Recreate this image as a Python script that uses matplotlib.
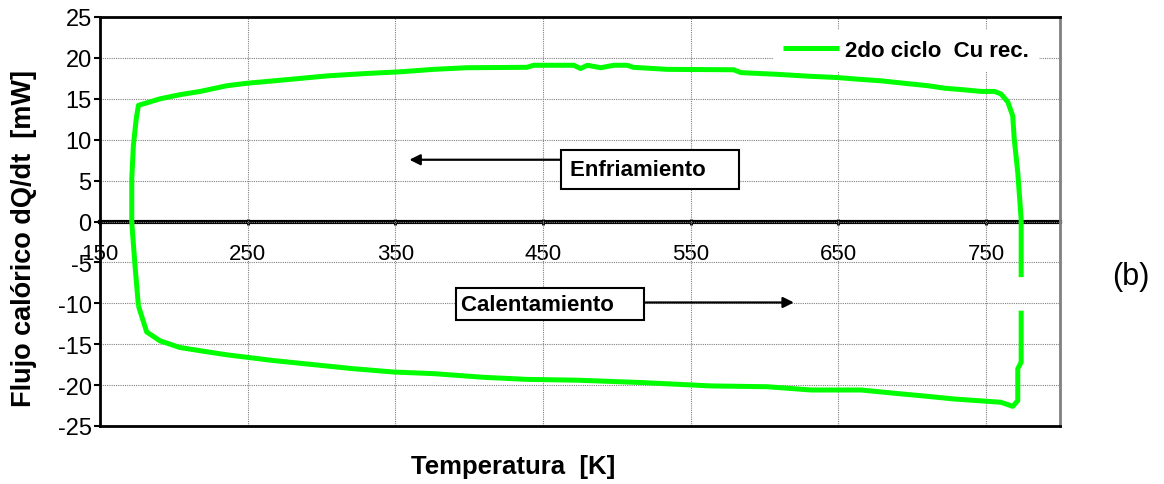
import matplotlib
matplotlib.use("Agg")
import matplotlib.pyplot as plt
import numpy as np

plt.rcParams['font.family'] = ['Liberation Sans', 'DejaVu Sans']
plt.rcParams['axes.unicode_minus'] = False

# ---- data ----
x_ticks = [150, 250, 350, 450, 550, 650, 750]
y_ticks = [-25, -20, -15, -10, -5, 0, 5, 10, 15, 20, 25]

# heating branch (bottom, left -> right, then up the right side)
heat_T = [176, 181.6, 190.7, 195, 204, 217.8, 236, 249.5, 267.5, 294.6, 321.7,
          348.8, 376, 410, 439, 473, 518.4, 563.6, 602, 631.4, 665.3, 688, 706,
          728.5, 744.4, 760, 768, 771.4, 771.4, 773.7, 773.7]
heat_Q = [-10.3, -13.5, -14.6, -14.85, -15.4, -15.8, -16.3, -16.6, -17.0, -17.5,
          -18.0, -18.4, -18.6, -19.05, -19.3, -19.4, -19.7, -20.1, -20.2, -20.6,
          -20.6, -21.0, -21.3, -21.7, -21.9, -22.1, -22.6, -21.9, -18.0, -17.2,
          -10.9]

# cooling branch (right side up, top right -> left, then down the left side)
cool_T = [773.7, 773.7, 771.4, 769, 768, 764.7, 760, 755.6, 746.6, 735, 721.7,
          710.5, 694.5, 678.8, 663, 649, 631, 607.6, 584, 579, 534, 511, 507,
          498, 489, 480, 475.4, 470.8, 443.7, 439, 398.6, 375.9, 353.4, 330.8,
          303.7, 274, 249.5, 236, 217.8, 204, 190.7, 181.6, 176, 174.5, 172.6,
          171.5, 171.5, 173.7, 176]
cool_Q = [-6.8, 0.3, 6.0, 10.1, 12.9, 14.6, 15.6, 15.9, 15.9, 16.1, 16.3,
          16.6, 16.9, 17.2, 17.4, 17.6, 17.75, 18.0, 18.2, 18.55, 18.6, 18.85,
          19.1, 19.1, 18.8, 19.1, 18.7, 19.1, 19.1, 18.85, 18.8, 18.6, 18.3,
          18.1, 17.8, 17.3, 16.9, 16.6, 15.9, 15.5, 15.0, 14.5, 14.2, 12.5,
          9.3, 5.2, -0.1, -5.4, -10.3]

series_label = "2do ciclo  Cu rec."

# ---- figure ----
fig = plt.figure(figsize=(11.64, 4.85), dpi=100)
ax = fig.add_axes([100/1164, 1-427/485, 960/1164, 409/485])

green = '#00FF00'
ax.plot(heat_T, heat_Q, color=green, lw=3.6, solid_capstyle='butt', zorder=3)
ax.plot(cool_T, cool_Q, color=green, lw=3.6, solid_capstyle='butt', zorder=3,
        label=series_label)

ax.set_xlim(150, 800)
ax.set_ylim(-25, 25)
ax.set_xticks(x_ticks)
ax.set_yticks(y_ticks)
ax.tick_params(axis='x', bottom=False, labelbottom=False)
ax.tick_params(axis='y', direction='out', length=4, width=1.5, labelsize=17, pad=2)
ax.grid(True, color='#808080', lw=0.8, ls=(0, (1, 1)), zorder=0)

for s in ['left', 'top', 'bottom']:
    ax.spines[s].set_linewidth(2)
    ax.spines[s].set_color('black')
ax.spines['right'].set_linewidth(2)
ax.spines['right'].set_color('#808080')

# axis at y = 0 carrying the temperature tick labels
sec = ax.secondary_xaxis(0.5)
sec.set_alignment('bottom')
sec.set_xticks(x_ticks)
sec.spines['bottom'].set_linewidth(3)
sec.spines['bottom'].set_color('black')
sec.tick_params(direction='inout', length=5, width=2, labelsize=16, pad=13)

ax.set_xlabel("Temperatura  [K]", fontsize=18.5, fontweight='bold', va='top')
ax.xaxis.set_label_coords(0.43, -0.068)
ax.set_ylabel("Flujo calórico dQ/dt  [mW]", fontsize=19.5, fontweight='bold')
ax.yaxis.set_label_coords(-0.066, 0.462)

leg = ax.legend(loc='upper right', bbox_to_anchor=(0.99, 0.995),
                prop={'weight': 'bold', 'size': 16}, frameon=True,
                fancybox=False, framealpha=1, edgecolor='none',
                handlelength=2.5, handletextpad=0.3, borderpad=0.45)
leg.set_zorder(5)

# annotations
ax.annotate("", xy=(359.5, 7.55), xytext=(464, 7.55),
            arrowprops=dict(arrowstyle='-|>', color='black', lw=1.6,
                            mutation_scale=16, shrinkA=0, shrinkB=0), zorder=4)
ax.text(468, 6.4, "Enfriamiento    ", fontsize=16, fontweight='bold',
        ha='left', va='center', zorder=5,
        bbox=dict(boxstyle='square,pad=0.4', fc='white', ec='black', lw=1.5))

ax.annotate("", xy=(619.8, -9.9), xytext=(519.5, -9.9),
            arrowprops=dict(arrowstyle='-|>', color='black', lw=1.6,
                            mutation_scale=16, shrinkA=0, shrinkB=0), zorder=4)
ax.text(394.5, -10.1, "Calentamiento    ", fontsize=16, fontweight='bold',
        ha='left', va='center', zorder=5,
        bbox=dict(boxstyle='square,pad=0.25', fc='white', ec='black', lw=1.5))

fig.text(1131/1164, 1-277/485, "(b)", fontsize=22, ha='center', va='center')

fig.savefig("out.png", dpi=100)
